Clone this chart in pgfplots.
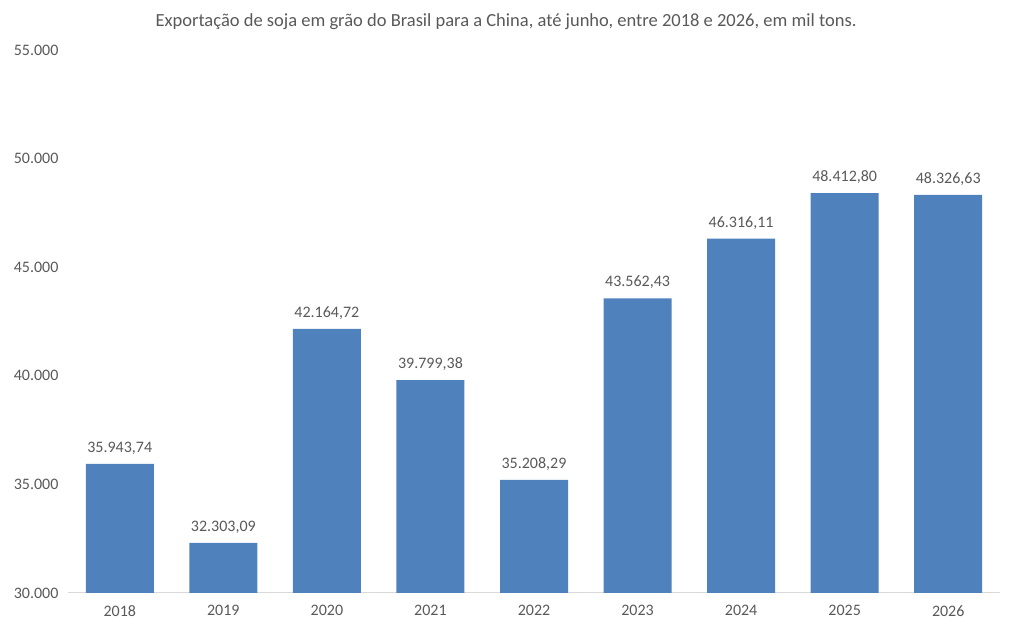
\documentclass[border=0pt]{standalone}
\usepackage{pgfplots}
\pgfplotsset{compat=1.18}
\usepackage{fontspec}
\setmainfont{Carlito}
\definecolor{barblue}{HTML}{4F81BD}
\definecolor{txt}{HTML}{595959}
\definecolor{axisgray}{HTML}{D9D9D9}
\begin{document}
\begin{tikzpicture}
\path[use as bounding box] (0pt,0pt) rectangle (1012pt,631pt);
\begin{axis}[
  at={(68pt,38pt)}, anchor=south west,
  scale only axis, width=932pt, height=543pt,
  xmin=-0.5, xmax=8.5, ymin=30000, ymax=55000,
  ybar, bar width=68pt,
  axis x line*=bottom, axis y line*=left,
  x axis line style={draw=axisgray, line width=1pt, -},
  y axis line style={draw=none},
  xtick=data, xticklabels={2018,2019,2020,2021,2022,2023,2024,2025,2026},
  major tick length=0pt,
  scaled y ticks=false,
  ytick={30000,35000,40000,45000,50000,55000},
  yticklabels={30.000,35.000,40.000,45.000,50.000,55.000},
  ticklabel style={font=\fontsize{16}{19}\selectfont, text=txt},
  xticklabel style={yshift=-9pt},
  yticklabel style={xshift=-6pt},
  nodes near coords,
  point meta=explicit symbolic,
  every node near coord/.append style={font=\fontsize{16}{19}\selectfont, text=txt, yshift=6pt},
  clip=false,
]
\addplot[fill=barblue, draw=none] table[x=x, y=y, meta=lab] {
x y lab
0 35943.74 35.943,74
1 32303.09 32.303,09
2 42164.72 42.164,72
3 39799.38 39.799,38
4 35208.29 35.208,29
5 43562.43 43.562,43
6 46316.11 46.316,11
7 48412.80 48.412,80
8 48326.63 48.326,63
};
\end{axis}
\node[text=txt, font=\fontsize{18.5}{22}\selectfont] at (506pt,609pt) {Exportação de soja em grão do Brasil para a China, até junho, entre 2018 e 2026, em mil tons.};
\end{tikzpicture}
\end{document}
